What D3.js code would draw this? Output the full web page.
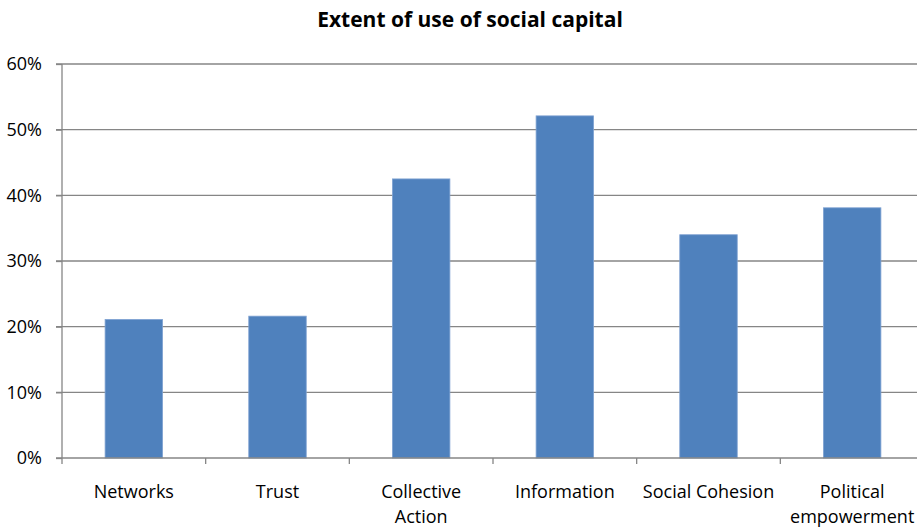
<!DOCTYPE html>
<html><head><meta charset="utf-8">
<script src="https://cdn.jsdelivr.net/npm/d3@7"></script>
<style>body{margin:0;background:#fff}svg{display:block}text{font-family:"Open Sans",sans-serif;fill:#000}</style>
</head><body>
<svg id="c" width="917" height="527"></svg>
<script>
const categories = [["Networks"],["Trust"],["Collective","Action"],["Information"],["Social Cohesion"],["Political","empowerment"]];
const values = [0.211, 0.216, 0.425, 0.521, 0.340, 0.381];
const yTicks = [0,0.1,0.2,0.3,0.4,0.5,0.6];
const title = "Extent of use of social capital";

const svg = d3.select("#c");
const W = 917, H = 527;
const plotL = 62, plotR = 924, plotT = 64, plotB = 458;
const x = d3.scaleBand().domain(d3.range(categories.length)).range([plotL, plotR]).paddingInner(0.6).paddingOuter(0.3);
const xb = d3.scaleLinear().domain([0, categories.length]).range([plotL, plotR]);
const y = d3.scaleLinear().domain([0,0.6]).range([plotB, plotT]);

// gridlines
svg.append("g").selectAll("line").data(yTicks.slice(1)).join("line")
  .attr("x1", plotL-6).attr("x2", W).attr("y1", d=>y(d)).attr("y2", d=>y(d))
  .attr("stroke","#868686").attr("stroke-width",1.3);

// bars
svg.append("g").selectAll("rect").data(values).join("rect")
  .attr("x",(d,i)=>x(i)).attr("width",x.bandwidth())
  .attr("y",d=>y(d)).attr("height",d=>y(0)-y(d))
  .attr("fill","#4F81BD").attr("stroke","#7fa2d2").attr("stroke-width",0.8);

// y axis
const ya = svg.append("g").attr("transform",`translate(${plotL},0)`)
  .call(d3.axisLeft(y).tickValues(yTicks).tickFormat(d3.format(".0%")).tickSize(6).tickPadding(14));
ya.select(".domain").attr("stroke","#868686").attr("stroke-width",1.3).attr("d",`M0,${y(0.6)}V${y(0)}`);
ya.selectAll(".tick line").attr("stroke","#868686").attr("stroke-width",1.3);
ya.selectAll(".tick text").style("font-size","18px").attr("fill","#000");

// x axis
const xa = svg.append("g").attr("transform",`translate(0,${y(0)})`);
xa.append("line").attr("x1",plotL-6).attr("x2",W).attr("stroke","#868686").attr("stroke-width",1.3);
xa.selectAll("line.tk").data(d3.range(categories.length+1)).join("line").attr("class","tk")
  .attr("x1",d=>xb(d)).attr("x2",d=>xb(d)).attr("y1",0).attr("y2",6)
  .attr("stroke","#868686").attr("stroke-width",1.3);
const lbl = xa.selectAll("text.lb").data(categories).join("text").attr("class","lb")
  .attr("text-anchor","middle").style("font-size","18px")
  .attr("transform",(d,i)=>`translate(${x(i)+x.bandwidth()/2},40)`);
lbl.selectAll("tspan").data(d=>d).join("tspan").attr("x",0).attr("dy",(d,j)=>j?25:0).text(d=>d);

svg.append("text").attr("x",470).attr("y",27).attr("text-anchor","middle")
  .style("font-size","21px").style("font-weight","bold").text(title);
</script>
</body></html>
